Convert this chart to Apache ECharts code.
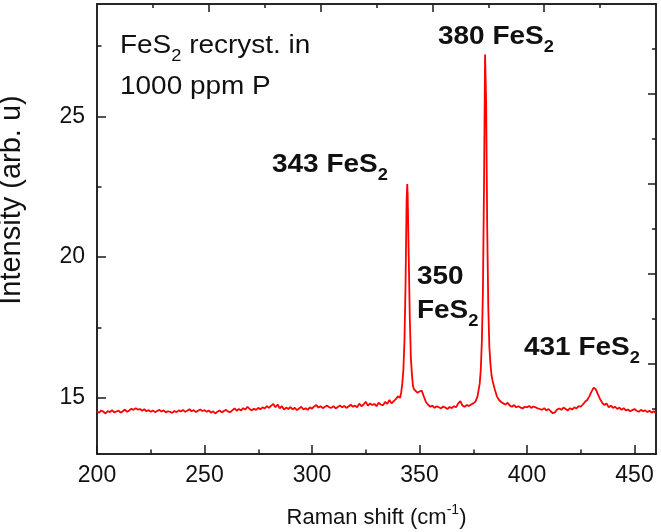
<!DOCTYPE html>
<html>
<head>
<meta charset="utf-8">
<script src="https://cdn.jsdelivr.net/npm/echarts@6/dist/echarts.min.js"></script>
<style>
  html, body { margin: 0; padding: 0; background: #fff; }
  #main { width: 661px; height: 532px; }
</style>
</head>
<body>
<div id="main"></div>
<script>
// Raman spectrum
var shift = [
  200,201,202,203,204,205,206,207,208,209,
  210,211,212,213,214,215,216,217,218,219,
  220,221,222,223,224,225,226,227,228,229,
  230,231,232,233,234,235,236,237,238,239,
  240,241,242,243,244,245,246,247,248,249,
  250,251,252,253,254,255,256,257,258,259,
  260,261,262,263,264,265,266,267,268,269,
  270,271,272,273,274,275,276,277,278,279,
  280,281,282,283,284,285,286,287,288,289,
  290,291,292,293,294,295,296,297,298,299,
  300,301,302,303,304,305,306,307,308,309,
  310,311,312,313,314,315,316,317,318,319,
  320,321,322,323,324,325,326,327,328,329,
  330,331,332,333,334,335,336,337,338,339,340,
  341,341.5,342,342.5,343,343.5,344,344.3,344.5,345,345.5,346,346.5,347,347.5,
  348,349,350,351,352,353,354,355,356,357,358,359,
  360,361,362,363,364,365,366,367,368,369,
  370,371,372,373,374,375,376,377,
  378,378.5,379,379.5,380,380.5,381,381.5,382,382.5,383,383.5,384,385,386,
  387,388,389,390,391,392,393,394,395,396,397,398,399,
  400,401,402,403,404,405,406,407,408,409,
  410,411,412,413,414,415,416,417,418,419,
  420,421,422,423,424,425,426,427,428,429,
  430,431,432,433,434,435,436,437,438,439,
  440,441,442,443,444,445,446,447,448,449,
  450,451,452,453,454,455,456,457,458,459,460
];
var intensity = [
  14.52,14.47,14.55,14.50,14.44,14.53,14.49,14.56,14.48,14.51,
  14.54,14.47,14.52,14.58,14.50,14.55,14.61,14.57,14.63,14.58,
  14.60,14.54,14.59,14.52,14.56,14.50,14.55,14.49,14.53,14.57,
  14.51,14.55,14.48,14.52,14.50,14.46,14.53,14.49,14.55,14.51,
  14.57,14.50,14.54,14.59,14.52,14.56,14.49,14.54,14.58,14.53,
  14.56,14.50,14.55,14.47,14.52,14.44,14.50,14.55,14.48,14.53,
  14.57,14.51,14.49,14.56,14.62,14.54,14.60,14.55,14.63,14.58,
  14.68,14.60,14.55,14.61,14.57,14.64,14.59,14.66,14.62,14.70,
  14.64,14.72,14.78,14.66,14.76,14.62,14.70,14.58,14.65,14.60,
  14.67,14.59,14.64,14.56,14.62,14.68,14.58,14.63,14.57,14.66,
  14.61,14.69,14.74,14.65,14.70,14.63,14.68,14.72,14.66,14.64,
  14.70,14.62,14.67,14.73,14.66,14.71,14.64,14.69,14.75,14.68,
  14.72,14.66,14.79,14.70,14.76,14.86,14.72,14.80,14.74,14.78,
  14.70,14.82,14.76,14.73,14.85,14.78,14.92,14.80,14.88,14.95,15.05,
  15.0,15.2,15.5,16.0,17.0,19.0,22.0,22.6,22.2,20.0,17.8,16.4,15.8,15.4,15.3,
  15.25,15.18,15.22,15.26,15.05,14.85,14.75,14.68,14.72,14.64,14.70,14.66,
  14.62,14.69,14.65,14.60,14.67,14.63,14.70,14.66,14.80,14.88,
  14.72,14.68,14.74,14.71,14.76,14.80,14.86,15.05,
  15.5,16.0,17.0,18.8,22.5,27.2,25.5,21.0,18.2,16.8,16.2,15.8,15.6,15.3,15.05,
  14.92,14.85,14.80,14.76,14.82,14.72,14.68,14.74,14.66,14.70,14.65,14.62,14.68,
  14.66,14.71,14.64,14.69,14.66,14.62,14.60,14.57,14.63,14.55,
  14.60,14.52,14.45,14.48,14.58,14.62,14.57,14.65,14.60,14.55,
  14.63,14.58,14.66,14.62,14.70,14.68,14.76,14.86,14.92,15.05,
  15.22,15.36,15.30,15.12,14.95,14.82,14.74,14.80,14.66,14.72,
  14.64,14.68,14.60,14.65,14.57,14.63,14.55,14.58,14.52,14.56,
  14.60,14.54,14.50,14.57,14.52,14.55,14.49,14.54,14.47,14.52,14.45
];

// tick positions
var xMajor = [200, 250, 300, 350, 400, 450];
var xMinor = [225, 275, 325, 375, 425];
var yMajor = [15, 20, 25];
var yMinor = [17.5, 22.5, 27.5];
// the top and right frame axes split the box in ten
var topMajor = [252, 304, 356, 408];
var topMinor = [226, 278, 330, 382, 434];
var rightMajor = [16.2, 19.4, 22.6, 25.8];
var rightMinor = [14.6, 17.8, 21, 24.2, 27.4];

var xMin = 200, xMax = 460, yMin = 13, yMax = 29;

var points = [];
for (var i = 0; i < shift.length; i++) {
  points.push([shift[i], intensity[i]]);
}

var FONT = 'Liberation Sans, Arial, sans-serif';
var lineCol = '#1a1a1a';

function frameX(pos, ticks, len, extra) {
  var ax = {
    type: 'value', position: pos, min: xMin, max: xMax,
    axisLine: { show: true, onZero: false, lineStyle: { color: lineCol, width: 1.5 } },
    axisTick: { show: true, inside: true, length: len, customValues: ticks, lineStyle: { color: lineCol, width: 1.5 } },
    axisLabel: { show: false },
    splitLine: { show: false }
  };
  return Object.assign(ax, extra || {});
}
function frameY(pos, ticks, len, extra) {
  var ax = {
    type: 'value', position: pos, min: yMin, max: yMax,
    axisLine: { show: true, onZero: false, lineStyle: { color: lineCol, width: 1.5 } },
    axisTick: { show: true, inside: true, length: len, customValues: ticks, lineStyle: { color: lineCol, width: 1.5 } },
    axisLabel: { show: false },
    splitLine: { show: false }
  };
  return Object.assign(ax, extra || {});
}

function label(x, y, text, bold) {
  return {
    type: 'text', x: x, y: y, scaleX: 1.075,
    style: {
      text: text,
      fontFamily: FONT, fontSize: 26, fontWeight: bold ? 'bold' : 'normal',
      lineHeight: 38,
      fill: '#111',
      verticalAlign: 'middle',
      rich: {
        sub: { fontFamily: FONT, fontWeight: bold ? 'bold' : 'normal', fontSize: 17, lineHeight: 17, verticalAlign: 'bottom' }
      }
    }
  };
}

var chart = echarts.init(document.getElementById('main'));
var option = {
  animation: false,
  backgroundColor: '#fff',
  grid: { left: 97, right: 5, top: 4, bottom: 78, outerBoundsMode: 'none', containLabel: false },
  xAxis: [
    frameX('bottom', xMajor, 9, {
      axisLabel: {
        show: true, customValues: xMajor, fontFamily: FONT, fontSize: 23, color: '#111', margin: 10
      },
      name: 'Raman shift (cm{sup|-1})',
      nameLocation: 'middle', nameGap: 49,
      nameTextStyle: {
        fontFamily: FONT, fontSize: 22, color: '#111', lineHeight: 30,
        rich: { sup: { fontFamily: FONT, fontSize: 14, lineHeight: 14, verticalAlign: 'top' } }
      }
    }),
    frameX('bottom', xMinor, 4.5),
    frameX('top', topMajor, 8),
    frameX('top', topMinor, 4)
  ],
  yAxis: [
    frameY('left', yMajor, 9, {
      axisLabel: {
        show: true, customValues: yMajor, fontFamily: FONT, fontSize: 23, color: '#111', margin: 12
      },
      name: 'Intensity (arb. u)',
      nameLocation: 'middle', nameGap: 71,
      nameTextStyle: { fontFamily: FONT, fontSize: 29, color: '#111', padding: [0, 0, 0, 58] }
    }),
    frameY('left', yMinor, 4.5),
    frameY('right', rightMajor, 8),
    frameY('right', rightMinor, 4)
  ],
  series: [{
    type: 'line',
    xAxisIndex: 0, yAxisIndex: 0,
    data: points,
    showSymbol: false,
    lineStyle: { color: '#ff0000', width: 1.8 },
    z: 1
  }],
  graphic: [
    label(120, 46, 'FeS{sub|2} recryst. in', false),
    label(120, 87, '1000 ppm P', false),
    label(272, 165, '343 FeS{sub|2}', true),
    label(438, 37, '380 FeS{sub|2}', true),
    label(417, 277, '350', true),
    label(417, 311, 'FeS{sub|2}', true),
    label(524, 348, '431 FeS{sub|2}', true)
  ]
};
chart.setOption(option);
</script>
</body>
</html>
